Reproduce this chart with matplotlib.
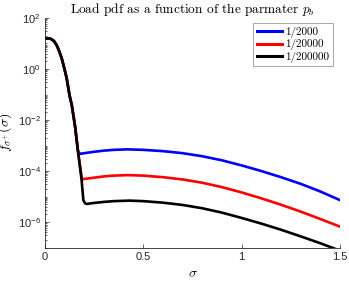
import numpy as np
import matplotlib
matplotlib.use("Agg")
import matplotlib.pyplot as plt
from matplotlib.ticker import FixedLocator, LogLocator, NullFormatter, FuncFormatter

# values
blue_x = [0, 0.02, 0.03, 0.045, 0.059, 0.072, 0.085, 0.098, 0.110, 0.125, 0.136, 0.153,
          0.167, 0.178, 0.2, 0.25, 0.3, 0.35, 0.42, 0.5, 0.6, 0.7, 0.8, 0.9, 1.0,
          1.1, 1.2, 1.3, 1.4, 1.5]
blue_y = [15.8, 15.8, 15.1, 12.6, 8.7, 5.0, 2.6, 1.07, 0.44, 0.09, 0.039, 5.5e-3,
          6.3e-4, 4.7e-4, 5.01e-4, 5.69e-4, 6.31e-4, 6.76e-4, 7.08e-4, 6.76e-4, 6.03e-4,
          5.01e-4, 3.80e-4, 2.63e-4, 1.66e-4, 1.0e-4, 5.75e-5, 3.16e-5, 1.58e-5, 7.24e-6]

red_x = [0, 0.02, 0.03, 0.045, 0.059, 0.072, 0.085, 0.098, 0.110, 0.125, 0.136, 0.153,
         0.169, 0.188, 0.2, 0.25, 0.3, 0.35, 0.42, 0.5, 0.6, 0.7, 0.8, 0.9, 1.0,
         1.1, 1.2, 1.3, 1.4, 1.5]
red_y = [15.8, 15.8, 15.1, 12.6, 8.7, 5.0, 2.6, 1.07, 0.44, 0.09, 0.039, 5.5e-3,
         4.9e-4, 4.7e-5, 4.90e-5, 5.50e-5, 6.17e-5, 6.61e-5, 6.92e-5, 6.61e-5, 5.75e-5,
         4.68e-5, 3.47e-5, 2.34e-5, 1.45e-5, 8.51e-6, 4.79e-6, 2.57e-6, 1.32e-6, 6.61e-7]

black_x = [0, 0.02, 0.03, 0.045, 0.059, 0.072, 0.085, 0.098, 0.110, 0.125, 0.136, 0.153,
           0.169, 0.186, 0.195, 0.204, 0.212, 0.25, 0.3, 0.35, 0.43, 0.5, 0.6, 0.7, 0.8,
           0.9, 1.0, 1.1, 1.2, 1.3, 1.4, 1.5]
black_y = [15.8, 15.8, 15.1, 12.6, 8.7, 5.0, 2.6, 1.07, 0.44, 0.09, 0.039, 5.5e-3,
           4.9e-4, 4.5e-5, 7.2e-6, 5.4e-6, 5.13e-6, 5.62e-6, 6.17e-6, 6.61e-6, 6.92e-6,
           6.61e-6, 5.75e-6, 4.68e-6, 3.47e-6, 2.34e-6, 1.45e-6, 8.71e-7, 5.01e-7,
           2.75e-7, 1.48e-7, 7.59e-8]

labels = ["1/2000", "1/20000", "1/200000"]
colors = ["#0000ff", "#ff0000", "#000000"]
x_ticks = [0, 0.5, 1, 1.5]

plt.rcParams["font.family"] = ["Liberation Sans", "DejaVu Sans"]
plt.rcParams["mathtext.fontset"] = "custom"
plt.rcParams["mathtext.rm"] = "Liberation Sans"
plt.rcParams["mathtext.it"] = "Liberation Sans:italic"
plt.rcParams["axes.unicode_minus"] = False

grey = "#262626"

fig = plt.figure(figsize=(3.49, 2.81), dpi=100)
ax = fig.add_axes([0.129, 0.119, 0.845, 0.817])

for xs, ys, c, lab in zip([blue_x, red_x, black_x], [blue_y, red_y, black_y], colors, labels):
    ax.plot(xs, ys, color=c, lw=1.9, label=lab, solid_joinstyle="round")

ax.set_yscale("log")
ax.set_xlim(0, 1.5)
ax.set_ylim(1e-7, 1e2)

ax.xaxis.set_major_locator(FixedLocator(x_ticks))
ax.xaxis.set_major_formatter(FuncFormatter(lambda v, p: f"{v:g}"))
ax.yaxis.set_major_locator(FixedLocator([1e-6, 1e-4, 1e-2, 1e0, 1e2]))
ax.yaxis.set_major_formatter(FuncFormatter(lambda v, p: r"$10^{%d}$" % round(np.log10(v))))
ax.yaxis.set_minor_locator(LogLocator(base=10, subs=np.arange(1, 10), numticks=20))
ax.yaxis.set_minor_formatter(NullFormatter())

for s in ["top", "right"]:
    ax.spines[s].set_visible(False)
for s in ["left", "bottom"]:
    ax.spines[s].set_color(grey)
    ax.spines[s].set_linewidth(0.6)

ax.tick_params(which="both", direction="in", colors=grey, labelsize=8, width=0.5)
ax.tick_params(which="major", length=3, pad=3)
ax.tick_params(which="minor", length=1.6)

ax.set_title(r"Load pdf as a function of the parmater $p_b$", fontsize=9.6,
             family="cmr10", math_fontfamily="cm", pad=3)
ax.set_xlabel(r"$\sigma$", fontsize=10, math_fontfamily="cm", labelpad=3)
ax.set_ylabel(r"$f_{\sigma^{+}}(\sigma)$", fontsize=10, math_fontfamily="cm")
ax.yaxis.set_label_coords(-0.105, 0.5)

leg = ax.legend(loc="upper right", bbox_to_anchor=(0.976, 0.976),
                prop={"family": "cmr10", "size": 8}, fancybox=False, framealpha=1,
                handlelength=2.3, handletextpad=0.3, labelspacing=0.15,
                borderpad=0.3, borderaxespad=0)
leg.get_frame().set_edgecolor("#999999")
leg.get_frame().set_linewidth(0.6)
for line in leg.get_lines():
    line.set_linewidth(2.2)

fig.savefig("out.png", dpi=100)
